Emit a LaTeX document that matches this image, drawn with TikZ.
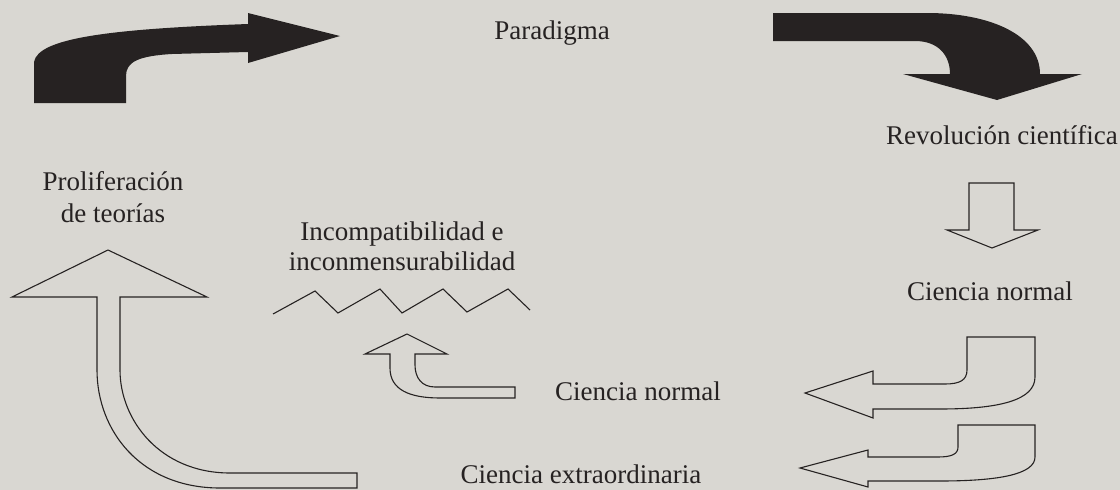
\documentclass[tikz,border=0pt]{standalone}
\usepackage{fontspec}
\setmainfont{Liberation Serif}
\definecolor{paper}{HTML}{D9D7D2}
\definecolor{ink}{HTML}{262222}
\begin{document}
\begin{tikzpicture}[x=1pt,y=-1pt,
  lbl/.style={font=\fontsize{27}{32}\selectfont, text=ink, inner sep=0pt, anchor=base},
  outl/.style={draw=ink, line width=1.1pt, line join=miter},
  blackshape/.style={fill=ink, draw=none}]
\fill[paper] (0,0) rectangle (1120,490);
\useasboundingbox (0,0) rectangle (1120,490);

% top-left black arrow
\path[blackshape] (34,103) -- (34,62) .. controls (38,38) and (110,29) .. (248,24)
  -- (248,13) -- (340,36) -- (248,63) -- (248,52) -- (172,54)
  .. controls (138,56) and (126,62) .. (126,76) -- (126,103) -- cycle;

% top-right black arrow
\path[blackshape] (773,13) -- (927,13) .. controls (990,13) and (1040,35) .. (1040,74)
  -- (1082,74) -- (997,100) -- (903,74) -- (950,74)
  .. controls (950,55) and (938,41) .. (915,41) -- (773,41) -- cycle;

% down white arrow
\draw[outl] (969,183) -- (1014,183) -- (1014,230) -- (1038,230) -- (992,248)
  -- (947,230) -- (969,230) -- cycle;

% upper U arrow pointing left
\draw[outl] (967,337) -- (1035,337) -- (1035,377)
  .. controls (1035,400) and (1000,409) .. (940,409) -- (873,409) -- (873,418)
  -- (805,393) -- (873,371) -- (873,384) -- (945,384)
  .. controls (960,384) and (967,380) .. (967,370) -- cycle;

% lower U arrow pointing left
\draw[outl] (958,425) -- (1035,425) -- (1035,457)
  .. controls (1035,474) and (1000,481) .. (940,481) -- (868,481) -- (868,487)
  -- (800,468) -- (868,450) -- (868,457) -- (938,457)
  .. controls (952,457) and (958,454) .. (958,447) -- cycle;

% big left white arrow
\draw[outl] (97,297) -- (12,297) -- (108,250) -- (207,297) -- (120,297) -- (120,370)
  .. controls (120,420) and (160,473) .. (230,473) -- (357,473) -- (357,488)
  -- (220,488) .. controls (140,488) and (97,430) .. (97,370) -- cycle;

% small white arrow
\draw[outl] (390,354) -- (365,354) -- (407,334) -- (447,354) -- (415,354) -- (415,365)
  .. controls (415,378) and (422,387) .. (435,387) -- (515,387) -- (515,398)
  -- (440,398) .. controls (410,398) and (390,390) .. (390,368) -- cycle;

% zigzag
\draw[outl] (273,314) -- (315,291) -- (338,313) -- (380,289) -- (402,313)
  -- (443,289) -- (467,312) -- (508,289) -- (530,310);

% labels
\node[lbl] (par) at (552,39) {Paradigma};
\node[lbl] (rev) at (1002,144) {Revolución científica};
\node[lbl] (cn1) at (990,300) {Ciencia normal};
\node[lbl] (cn2) at (638,400) {Ciencia normal};
\node[lbl] (ce) at (581,483) {Ciencia extraordinaria};
\node[lbl] (p1) at (113,190) {Proliferación};
\node[lbl] (p2) at (113,222) {de teorías};
\node[lbl] (i1) at (402,240) {Incompatibilidad e};
\node[lbl] (i2) at (402,270) {inconmensurabilidad};
\end{tikzpicture}
\end{document}
